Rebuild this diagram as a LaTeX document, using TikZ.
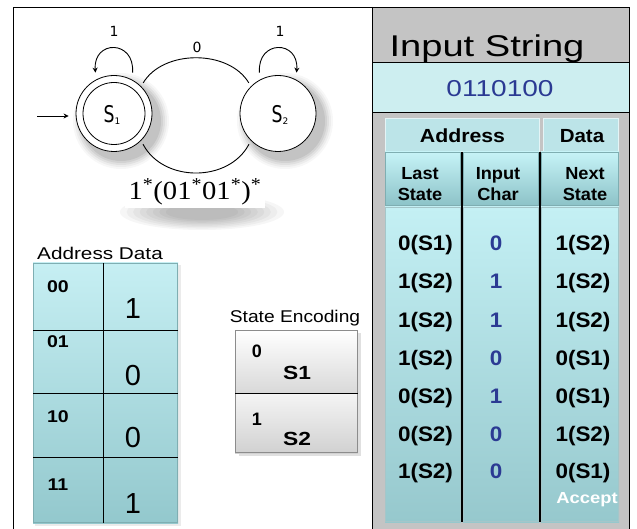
\documentclass[tikz,border=0pt]{standalone}
\usepackage{fontspec}
\setmainfont{Liberation Sans}
\newfontfamily\regexfont{Liberation Serif}
\newfontfamily\dvfont{DejaVu Sans}
\usetikzlibrary{arrows.meta}
\definecolor{panelgray}{HTML}{C4C4C4}
\definecolor{bandcyan}{HTML}{CDEEF0}
\definecolor{txtblue}{HTML}{2B3A93}
\definecolor{hdrcyan}{HTML}{BCE4E8}
\definecolor{colTop}{HTML}{C6F3F7}
\definecolor{colBot}{HTML}{8CC2C7}
\definecolor{bodyTop}{HTML}{C4F0F4}
\definecolor{bodyBot}{HTML}{96C8CD}
\definecolor{adTop}{HTML}{C6EFF3}
\definecolor{adBot}{HTML}{93C8CD}
\definecolor{edge}{HTML}{7FAEB2}
\newcommand\fs[1]{\fontsize{#1}{#1}\selectfont}
\newcommand\sx[2]{\scalebox{#1}[1]{#2}}
\newcommand\twoline[2]{\begin{tabular}{@{}c@{}}#1\\[-0.5pt]#2\end{tabular}}
\tikzset{
  txt/.style={anchor=base, inner sep=0pt, outer sep=0pt},
  valtxt/.style={txt, font=\fs{21}\bfseries},
  bluetxt/.style={valtxt, text=txtblue},
  colhdr/.style={anchor=center, inner sep=0pt, font=\fontsize{17.5}{21.5}\selectfont\bfseries},
  state/.style={circle, draw, line width=0.8pt, fill=white, minimum size=76pt, inner sep=0pt},
  conn/.style={line width=0.9pt},
  tip/.style={-{Stealth[length=5pt,width=5pt]}},
  gridline/.style={line width=1pt, black},
}
\begin{document}
\begin{tikzpicture}[x=1pt,y=-1pt]
\useasboundingbox (0,0) rectangle (637,529);
\fill[white] (0,0) rectangle (637,529);

% ---------------- right panel ----------------
\fill[panelgray] (372,7) rectangle (629,529);
\fill[bandcyan] (372,62) rectangle (629,112);
\draw[line width=0.8pt] (372,62) -- (629,62);
\draw[line width=0.8pt] (372,112) -- (629,112);
\node[txt, font=\fs{30}] (title) at (487,57) {\sx{1.27}{Input String}};
\node[txt, font=\fs{23}, text=txtblue] (instr) at (500,97) {\sx{1.22}{0110100}};

% header cells
\fill[hdrcyan] (385,118) rectangle (540,152);
\fill[hdrcyan] (543,118) rectangle (619,152);
\draw[white!60!hdrcyan, line width=1pt] (385.5,118.5) rectangle (539.5,151.5);
\draw[white!60!hdrcyan, line width=1pt] (543.5,118.5) rectangle (618.5,151.5);
\node[txt, font=\fs{19}\bfseries] (haddr) at (462.5,143) {\sx{1.12}{Address}};
\node[txt, font=\fs{19}\bfseries] (hdata) at (582,143) {\sx{1.08}{Data}};

% column headers and bodies
\foreach \xa/\xb in {385/461, 463/539, 541/619}{
  \shade[top color=colTop, bottom color=colBot] (\xa,152) rectangle (\xb,206);
  \shade[top color=bodyTop, bottom color=bodyBot] (\xa,207) rectangle (\xb,522);
  \draw[edge!70!white, line width=0.8pt] (\xa+0.5,207.5) rectangle (\xb-0.5,521.5);
  \draw[edge, line width=0.8pt] (\xa+0.5,152.5) rectangle (\xb-0.5,205.5);
}
\node[colhdr] (hlast) at (420,186) {\sx{1.04}{\twoline{Last}{State}}};
\node[colhdr] (hinp) at (498,186) {\sx{1.04}{\twoline{Input}{Char}}};
\node[colhdr] (hnext) at (585,186) {\sx{1.04}{\twoline{Next}{State}}};
\draw[gridline, line width=2.6pt] (462,152) -- (462,522);
\draw[gridline, line width=2.6pt] (540,152) -- (540,522);

\foreach \i/\y/\a/\b/\c in {1/251/0(S1)/0/1(S2), 2/289/1(S2)/1/1(S2), 3/327/1(S2)/1/1(S2),
   4/365/1(S2)/0/0(S1), 5/403/0(S2)/1/0(S1), 6/441/0(S2)/0/1(S2), 7/478/1(S2)/0/0(S1)}{
  \node[valtxt] (last\i) at (425.5,\y) {\sx{1.07}{\a}};
  \node[bluetxt] (char\i) at (496,\y) {\sx{1.07}{\b}};
  \node[valtxt] (next\i) at (583,\y) {\sx{1.07}{\c}};
}
\node[txt, font=\fs{16}\bfseries, text=white] (accept) at (587,503) {\sx{1.15}{Accept}};

% frame
\draw[line width=0.9pt] (13,529) -- (13,7) -- (629,7) -- (629,529);
\draw[line width=0.9pt] (372,7) -- (372,529);

% ---------------- state diagram ----------------
% soft shadows
\foreach \r/\o in {48/0.03, 46/0.04, 44/0.05, 42/0.06, 40/0.07}{
  \fill[black, opacity=\o] (121,121) circle [radius=\r pt];
  \fill[black, opacity=\o] (285,121) circle [radius=\r pt];
}
\foreach \r in {1.0,0.92,0.84,0.76,0.68,0.6,0.52,0.44}{
  \fill[black, opacity=0.035] (202,212) ellipse [x radius=\r*82pt, y radius=\r*18pt];
}
\node[state] (s1) at (114,113.5) {};
\node[state] (s2) at (278,113.5) {};
\draw[line width=0.8pt] (s1.center) circle [radius=31pt];
\node[txt, font=\dvfont\fs{23}] (s1l) at (112,123) {\sx{0.75}{S}\raisebox{-2pt}{\fs{9}1}};
\node[txt, font=\dvfont\fs{23}] (s2l) at (280,123) {\sx{0.75}{S}\raisebox{-2pt}{\fs{9}2}};

\coordinate (init) at (37,116);
\draw[conn, tip, shorten >=7pt] (init) -- (init -| s1.west);

\draw[conn, tip, shorten <=7pt, shorten >=7pt] (s1.62) .. controls +(3,-40) and +(-3,-40) .. (s1.118);
\draw[conn, tip, shorten <=7pt, shorten >=7pt] (s2.118) .. controls +(-3,-40) and +(3,-40) .. (s2.62);
\draw[conn, shorten <=4pt, shorten >=4pt] (s1.45) .. controls +(22,-37) and +(-22,-37) .. (s2.135);
\draw[conn, shorten <=4pt, shorten >=4pt] (s1.-45) .. controls +(22,42) and +(-22,42) .. (s2.-135);

\node[txt, font=\dvfont\fs{14}] (lab1) at (114,37) {1};
\node[txt, font=\dvfont\fs{14}] (lab2) at (280,37) {1};
\node[txt, font=\dvfont\fs{14}] (lab0) at (197,53) {0};

\fill[white] (125,177) rectangle (265,208);
\node[txt, font=\regexfont\fs{26}] (regex) at (195,200) {\sx{1.1}{1\textsuperscript{*}(01\textsuperscript{*}01\textsuperscript{*})\textsuperscript{*}}};

% ---------------- address/data table ----------------
\node[txt, font=\fs{17}] (adlabel) at (100,260) {\sx{1.22}{Address Data}};
\fill[black, opacity=0.08] (35,265) rectangle (181,526);
\shade[top color=adTop, bottom color=adBot] (33,263) rectangle (178,523);
\draw[edge, line width=0.8pt] (33.5,263.5) rectangle (177.5,522.5);
\draw[gridline] (103,263) -- (103,523);
\foreach \y in {330,393,457}{ \draw[gridline] (33,\y) -- (178,\y); }
\foreach \i/\ya/\a/\yb/\b in {1/293/00/319/1, 2/347/01/385/0, 3/422/10/447/0, 4/490/11/513/1}{
  \node[txt, font=\fs{17}\bfseries] (addr\i) at (58,\ya) {\sx{1.15}{\a}};
  \node[txt, font=\fs{29}] (data\i) at (133,\yb) {\b};
}

% ---------------- state encoding ----------------
\node[txt, font=\fs{17}] (enclabel) at (295,322) {\sx{1.13}{State Encoding}};
\fill[black, opacity=0.12] (239,333) rectangle (361,456);
\shade[top color=white, bottom color=black!15] (235,330) rectangle (358,393);
\shade[top color=black!4, bottom color=black!18] (235,393) rectangle (358,453);
\draw[black!45, line width=0.8pt] (235.5,330.5) rectangle (357.5,452.5);
\draw[gridline] (235,393) -- (358,393);
\node[txt, font=\fs{18}\bfseries] (enc0) at (257,357) {0};
\node[txt, font=\fs{19}\bfseries] (encs1) at (297,379) {\sx{1.2}{S1}};
\node[txt, font=\fs{18}\bfseries] (enc1) at (257,425) {1};
\node[txt, font=\fs{19}\bfseries] (encs2) at (297,445) {\sx{1.2}{S2}};
\end{tikzpicture}
\end{document}
